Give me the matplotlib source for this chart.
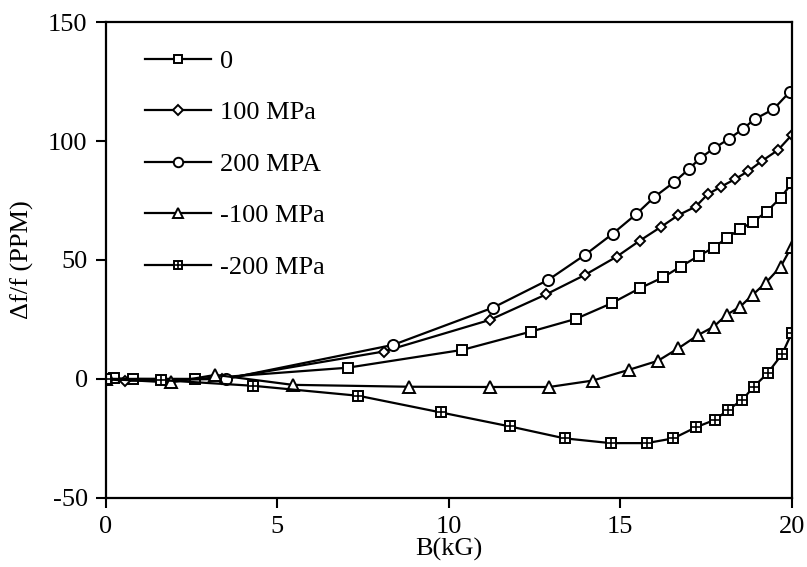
import matplotlib
matplotlib.use("Agg")
import matplotlib.pyplot as plt

# B (kG) and df/f (PPM)
b_0 = [0.0, 0.25, 0.8, 2.6, 7.05, 10.4, 12.4, 13.7, 14.75, 15.57, 16.25, 16.76,
       17.3, 17.73, 18.12, 18.49, 18.88, 19.27, 19.68, 20.0]
df_0 = [0.0, 0.2, 0.0, -0.1, 4.7, 12.2, 19.9, 25.2, 31.8, 38.1, 42.7, 47.2,
        51.8, 55.2, 59.4, 62.9, 66.1, 70.3, 76.2, 82.2]

b_100 = [0.0, 0.55, 3.4, 8.1, 11.2, 12.85, 13.97, 14.9, 15.57, 16.2, 16.7, 17.2,
         17.55, 17.94, 18.35, 18.74, 19.13, 19.6, 20.0]
df_100 = [0.0, -0.8, 0.0, 11.5, 24.8, 35.6, 43.7, 51.4, 58.1, 64.0, 68.9, 72.4,
          77.6, 80.8, 84.0, 87.4, 91.6, 96.2, 102.5]

b_200 = [0.0, 3.5, 8.38, 11.3, 12.9, 13.97, 14.78, 15.47, 16.0, 16.58, 17.0,
         17.34, 17.75, 18.16, 18.57, 18.92, 19.47, 19.94]
df_200 = [0.0, 0.0, 14.3, 30.0, 41.6, 52.1, 61.0, 69.3, 76.5, 82.8, 88.2,
          92.9, 97.1, 100.8, 105.0, 109.2, 113.4, 120.6]

b_m100 = [0.0, 1.9, 3.2, 5.45, 8.85, 11.2, 12.93, 14.2, 15.25, 16.1, 16.7, 17.28,
          17.73, 18.1, 18.5, 18.86, 19.25, 19.68, 20.0]
df_m100 = [0.0, -1.5, 1.7, -2.5, -3.3, -3.4, -3.4, -0.7, 3.8, 7.6, 12.9, 18.5,
           22.0, 26.9, 30.4, 35.3, 40.5, 47.2, 55.6]

b_m200 = [0.0, 1.6, 4.3, 7.37, 9.77, 11.79, 13.38, 14.72, 15.77, 16.55, 17.2,
          17.76, 18.15, 18.56, 18.9, 19.3, 19.72, 20.0]
df_m200 = [0.0, -0.5, -2.9, -7.1, -14.1, -20.0, -25.0, -27.0, -27.0, -25.0, -20.4,
           -17.2, -13.0, -8.8, -3.2, 2.4, 10.4, 19.2]

labels = ["0", "100 MPa", "200 MPA", "-100 MPa", "-200 MPa"]

plt.rcParams["font.family"] = ["Liberation Serif", "DejaVu Serif"]
plt.rcParams["axes.unicode_minus"] = False

fig = plt.figure(figsize=(8.07, 5.67), dpi=100)
ax = fig.add_axes([0.131, 0.122, 0.850, 0.839])

style = dict(color="black", linewidth=1.6, markerfacecolor="white",
             markeredgecolor="black", markeredgewidth=1.4)

h0, = ax.plot(b_0, df_0, marker="s", markersize=7.5, **style)
h1, = ax.plot(b_100, df_100, marker="D", markersize=5.5, **style)
h2, = ax.plot(b_200, df_200, marker="o", markersize=8, **style)
h3, = ax.plot(b_m100, df_m100, marker="^", markersize=8, **style)
h4, = ax.plot(b_m200, df_m200, marker="s", markersize=7.5, **style)
h4p, = ax.plot(b_m200, df_m200, marker="+", markersize=7.5, linestyle="none",
               color="black", markeredgewidth=1.2)

ax.set_xlim(0, 20)
ax.set_ylim(-50, 150)
ax.set_xticks([0, 5, 10, 15, 20])
ax.set_yticks([-50, 0, 50, 100, 150])
ax.tick_params(direction="out", length=7, width=1.5, labelsize=19, pad=6)
for s in ax.spines.values():
    s.set_linewidth(1.6)

ax.set_xlabel("B(kG)", fontsize=19, labelpad=0)
ax.set_ylabel("Δf/f (PPM)", fontsize=19, labelpad=10)

ax.legend([h0, h1, h2, h3, (h4, h4p)], labels, loc="upper left",
          bbox_to_anchor=(0.038, 0.97), frameon=False, fontsize=19,
          handlelength=2.5, handletextpad=0.35, labelspacing=1.06,
          borderpad=0, markerscale=0.85)

fig.savefig("out.png", dpi=100)
